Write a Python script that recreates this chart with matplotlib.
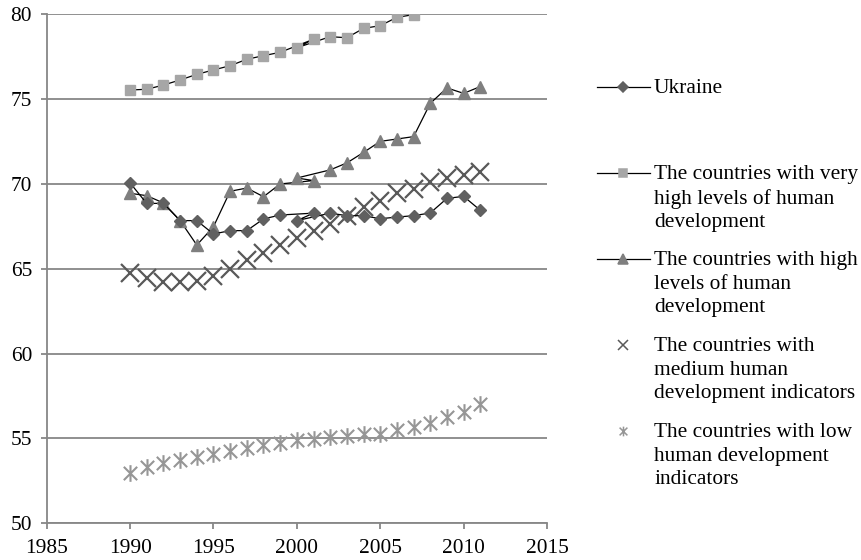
import matplotlib
matplotlib.use("Agg")
import matplotlib.pyplot as plt
from matplotlib.path import Path

plt.rcParams['font.family'] = ['Liberation Serif', 'DejaVu Serif']
plt.rcParams['font.size'] = 15.4

# Years in the order the points are joined in the source chart (2001 listed before 2000)
years = [1990, 1991, 1992, 1993, 1994, 1995, 1996, 1997, 1998, 1999,
         2001, 2000, 2002, 2003, 2004, 2005, 2006, 2007, 2008, 2009, 2010, 2011]

ukraine = [70.06, 68.85, 68.86, 67.84, 67.84, 67.05, 67.25, 67.25, 67.94, 68.17,
           68.28, 67.84, 68.28, 68.13, 68.13, 67.95, 68.05, 68.13, 68.29, 69.15, 69.27, 68.45]
very_high = [75.54, 75.58, 75.83, 76.13, 76.46, 76.72, 76.97, 77.35, 77.56, 77.76,
             78.53, 78.03, 78.68, 78.62, 79.17, 79.33, 79.82, 79.98, None, None, None, None]
high = [69.45, 69.31, 68.88, 67.84, 66.40, 67.48, 69.57, 69.76, 69.25, 70.00,
        70.20, 70.35, 70.83, 71.24, 71.86, 72.51, 72.65, 72.79, 74.75, 75.66, 75.34, 75.74]
medium = [64.75, 64.45, 64.21, 64.21, 64.29, 64.55, 65.00, 65.53, 65.93, 66.42,
          67.20, 66.81, 67.65, 68.14, 68.64, 68.97, 69.46, 69.72, 70.11, 70.35, 70.54, 70.73]
low = [52.94, 53.29, 53.53, 53.72, 53.91, 54.07, 54.25, 54.45, 54.60, 54.74,
       54.94, 54.90, 55.06, 55.14, 55.24, 55.29, 55.49, 55.68, 55.92, 56.24, 56.57, 57.06]

labels = ["Ukraine",
          "The countries with very\nhigh levels of human\ndevelopment",
          "The countries with high\nlevels of human\ndevelopment",
          "The countries with\nmedium human\ndevelopment indicators",
          "The countries with low\nhuman development\nindicators"]

xticks = [1985, 1990, 1995, 2000, 2005, 2010, 2015]
yticks = [50, 55, 60, 65, 70, 75, 80]

# asterisk marker (x with vertical bar)
star_path = Path([(-1, -1), (1, 1), (-1, 1), (1, -1), (0, -1.25), (0, 1.25)],
                 [Path.MOVETO, Path.LINETO, Path.MOVETO, Path.LINETO, Path.MOVETO, Path.LINETO])

grid_c = '#878787'
c_ukr = '#606060'
c_vh = '#a6a6a6'
c_hi = '#7f7f7f'
c_med = '#595959'
c_low = '#969696'

fig = plt.figure(figsize=(8.62, 5.6), dpi=100)
ax = fig.add_axes([46.7 / 862, 1 - 523.3 / 560, (547 - 46.7) / 862, (523.3 - 14.3) / 560])

def pts(ys):
    xs = [x for x, y in zip(years, ys) if y is not None]
    vs = [y for y in ys if y is not None]
    return xs, vs

x, y = pts(very_high)
ax.plot(x, y, color='black', lw=0.9, marker='s', ms=7, mfc=c_vh, mec=c_vh, zorder=3)
x, y = pts(high)
ax.plot(x, y, color='black', lw=0.9, marker='^', ms=8.5, mfc=c_hi, mec=c_hi, zorder=3)
x, y = pts(ukraine)
ax.plot(x, y, color='black', lw=0.9, marker='D', ms=6, mfc=c_ukr, mec=c_ukr, zorder=4)
x, y = pts(medium)
ax.plot(x, y, ls='none', marker='x', ms=13, mew=1.6, mec=c_med, zorder=3)
x, y = pts(low)
ax.plot(x, y, ls='none', marker=star_path, ms=12, mew=1.5, mec=c_low, mfc='none', zorder=3)

ax.set_xlim(1985, 2015)
ax.set_ylim(50, 80)
ax.set_xticks(xticks)
ax.set_yticks(yticks)
ax.grid(axis='y', color=grid_c, lw=1.3, zorder=1)
ax.set_axisbelow(True)
for s in ['top', 'right']:
    ax.spines[s].set_visible(False)
for s in ['left', 'bottom']:
    ax.spines[s].set_color(grid_c)
    ax.spines[s].set_linewidth(1.3)
ax.tick_params(axis='both', colors=grid_c, length=4.5, width=1.3, labelcolor='black')
ax.tick_params(axis='y', pad=6)
ax.tick_params(axis='x', pad=7)

# legend drawn in pixel coordinates
lax = fig.add_axes([0, 0, 1, 1])
lax.set_xlim(0, 862)
lax.set_ylim(560, 0)
lax.axis('off')
styles = [
    dict(line=True, marker='D', ms=5, mfc=c_ukr, mec=c_ukr),
    dict(line=True, marker='s', ms=6, mfc=c_vh, mec=c_vh),
    dict(line=True, marker='^', ms=6.5, mfc=c_hi, mec=c_hi),
    dict(line=False, marker='x', ms=7, mfc='none', mec=c_med),
    dict(line=False, marker=star_path, ms=7, mfc='none', mec=c_low),
]
y0 = 87
pitch = 86
for i, (lab, st) in enumerate(zip(labels, styles)):
    yc = y0 + i * pitch
    if st['line']:
        lax.plot([597, 650], [yc, yc], color='black', lw=0.9)
    lax.plot([623.5], [yc], ls='none', marker=st['marker'], ms=st['ms'],
             mfc=st['mfc'], mec=st['mec'], mew=1.1)
    lax.text(654, yc - 8, lab, va='top', ha='left', linespacing=1.33)

fig.savefig('out.png', dpi=100)
